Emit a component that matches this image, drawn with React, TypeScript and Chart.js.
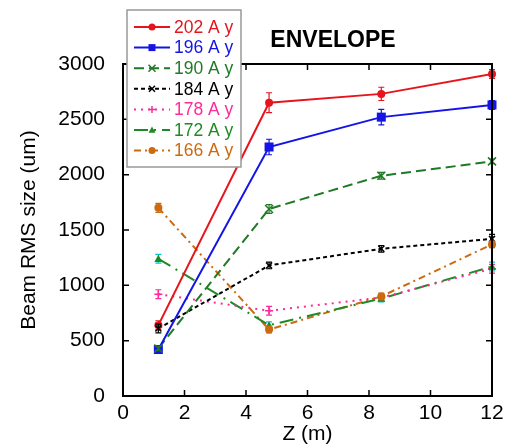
import React, { useEffect, useRef } from "react";
import { Chart, registerables } from "chart.js";

Chart.register(...registerables);

const zPositions = [1.15, 4.75, 8.4, 12];
const s202 = [640, 2650, 2730, 2910];
const s196 = [420, 2250, 2520, 2630];
const s190 = [430, 1690, 1990, 2120];
const s184 = [610, 1180, 1330, 1420];
const s178 = [920, 770, 890, 1150];
const s172 = [1240, 640, 880, 1170];
const s166 = [1700, 600, 900, 1370];

const e202 = [40, 90, 60, 40];
const e196 = [30, 70, 70, 40];
const e190 = [20, 40, 30, 20];
const e184 = [40, 30, 30, 40];
const e178 = [40, 40, 30, 40];
const e172 = [40, 30, 30, 40];
const e166 = [40, 30, 30, 30];

const labels = ["202 A y", "196 A y", "190 A y", "184 A y", "178 A y", "172 A y", "166 A y"];
const xTicks = [0, 2, 4, 6, 8, 10, 12];
const yTicks = [0, 500, 1000, 1500, 2000, 2500, 3000];

const FONT = "'Liberation Sans', Arial, sans-serif";

const styles = [
  { color: "#e6141c", dash: [], marker: "circle", size: 4 },
  { color: "#1414e6", dash: [], marker: "rect", size: 4.5 },
  { color: "#1f7a25", dash: [10, 5], marker: "crossRot", size: 4 },
  { color: "#000000", dash: [4, 3], marker: "crossRot", size: 3 },
  { color: "#ff2a9a", dash: [2, 5], marker: "cross", size: 4 },
  { color: "#1f8a25", dash: [14, 6, 2, 6], marker: "triangle", size: 4 },
  { color: "#cc6a10", dash: [7, 4, 2, 4], marker: "circle", size: 4 },
];

const seriesList = [s202, s196, s190, s184, s178, s172, s166];
const errList = [e202, e196, e190, e184, e178, e172, e166];
const errColors = ["#e6141c", "#1414e6", "#1f7a25", "#000000", "#ff2a9a", "#00c8c8", "#cc6a10"];

const drawMarker = (ctx: CanvasRenderingContext2D, type: string, x: number, y: number, r: number, color: string) => {
  ctx.save();
  ctx.setLineDash([]);
  ctx.fillStyle = color;
  ctx.strokeStyle = color;
  ctx.lineWidth = 1.5;
  ctx.beginPath();
  if (type === "circle") {
    ctx.arc(x, y, r, 0, Math.PI * 2);
    ctx.fill();
  } else if (type === "rect") {
    ctx.fillRect(x - r, y - r, 2 * r, 2 * r);
  } else if (type === "triangle") {
    ctx.moveTo(x, y - r);
    ctx.lineTo(x + r, y + r * 0.8);
    ctx.lineTo(x - r, y + r * 0.8);
    ctx.closePath();
    ctx.fill();
  } else if (type === "cross") {
    ctx.moveTo(x - r, y); ctx.lineTo(x + r, y);
    ctx.moveTo(x, y - r); ctx.lineTo(x, y + r);
    ctx.stroke();
  } else {
    ctx.moveTo(x - r, y - r); ctx.lineTo(x + r, y + r);
    ctx.moveTo(x + r, y - r); ctx.lineTo(x - r, y + r);
    ctx.stroke();
  }
  ctx.restore();
};

const customPlugin = {
  id: "custom",
  afterDatasetsDraw(chart: any) {
    const ctx = chart.ctx as CanvasRenderingContext2D;
    const xs = chart.scales.x;
    const ys = chart.scales.y;
    const ca = chart.chartArea;
    chart.data.datasets.forEach((ds: any, i: number) => {
      const meta = chart.getDatasetMeta(i);
      meta.data.forEach((pt: any, j: number) => {
        const v = seriesList[i][j];
        const e = errList[i][j];
        const y1 = ys.getPixelForValue(v + e);
        const y2 = ys.getPixelForValue(v - e);
        ctx.save();
        ctx.strokeStyle = errColors[i];
        ctx.lineWidth = 1.2;
        ctx.beginPath();
        ctx.moveTo(pt.x, y1); ctx.lineTo(pt.x, y2);
        ctx.moveTo(pt.x - 3, y1); ctx.lineTo(pt.x + 3, y1);
        ctx.moveTo(pt.x - 3, y2); ctx.lineTo(pt.x + 3, y2);
        ctx.stroke();
        ctx.restore();
        drawMarker(ctx, styles[i].marker, pt.x, pt.y, styles[i].size, styles[i].color);
      });
    });
    ctx.save();
    ctx.strokeStyle = "#000";
    ctx.lineWidth = 2;
    ctx.setLineDash([]);
    ctx.strokeRect(ca.left, ca.top, ca.right - ca.left, ca.bottom - ca.top);
    ctx.lineWidth = 1.5;
    ctx.beginPath();
    xTicks.forEach((t) => {
      const px = xs.getPixelForValue(t);
      ctx.moveTo(px, ca.bottom); ctx.lineTo(px, ca.bottom - 6);
      ctx.moveTo(px, ca.top); ctx.lineTo(px, ca.top + 6);
    });
    yTicks.forEach((t) => {
      const py = ys.getPixelForValue(t);
      ctx.moveTo(ca.left, py); ctx.lineTo(ca.left + 6, py);
      ctx.moveTo(ca.right, py); ctx.lineTo(ca.right - 6, py);
    });
    ctx.stroke();
    ctx.fillStyle = "#000";
    ctx.font = "bold 23px " + FONT;
    ctx.textAlign = "center";
    ctx.textBaseline = "middle";
    ctx.fillText("ENVELOPE", 333, 41);
    const lx = 127, ly = 10, lw = 114, lh = 157;
    ctx.fillStyle = "#fff";
    ctx.fillRect(lx, ly, lw, lh);
    ctx.strokeStyle = "#999";
    ctx.lineWidth = 1.5;
    ctx.strokeRect(lx, ly, lw, lh);
    ctx.font = "17.5px " + FONT;
    ctx.textAlign = "left";
    labels.forEach((lab, i) => {
      const y = 27 + i * 20.6;
      const st = styles[i];
      ctx.save();
      ctx.strokeStyle = st.color;
      ctx.lineWidth = 2;
      ctx.setLineDash(st.dash);
      ctx.beginPath();
      ctx.moveTo(134, y); ctx.lineTo(170, y);
      ctx.stroke();
      ctx.restore();
      drawMarker(ctx, st.marker, 152, y, Math.min(st.size, 3.5), st.color);
      ctx.fillStyle = st.color;
      ctx.fillText(lab, 174, y + 1);
    });
    ctx.restore();
  },
};

export default function App() {
  const ref = useRef<HTMLCanvasElement>(null);
  useEffect(() => {
    if (!ref.current) return;
    const chart = new Chart(ref.current, {
      type: "line",
      data: {
        datasets: seriesList.map((s, i) => ({
          label: labels[i],
          data: s.map((v, j) => ({ x: zPositions[j], y: v })),
          borderColor: styles[i].color,
          backgroundColor: styles[i].color,
          borderDash: styles[i].dash,
          borderWidth: 2,
          pointRadius: 0,
          tension: 0,
          fill: false,
        })),
      },
      options: {
        animation: false,
        responsive: false,
        maintainAspectRatio: false,
        layout: { padding: { top: 64, right: 18, left: 17, bottom: 0 } },
        plugins: { legend: { display: false }, tooltip: { enabled: false } },
        scales: {
          x: {
            type: "linear",
            min: 0,
            max: 12,
            grid: { display: false },
            border: { display: false },
            ticks: {
              stepSize: 2,
              color: "#000",
              padding: -3,
              maxRotation: 0,
              callback: (v: any) => String(v),
              font: { size: 21, family: FONT },
            },
            title: {
              display: true,
              text: "Z (m)",
              color: "#000",
              padding: { top: 0, bottom: 0 },
              font: { size: 21, family: FONT },
            },
            afterFit: (s: any) => { s.height = 51; },
          },
          y: {
            type: "linear",
            min: 0,
            max: 3000,
            grid: { display: false },
            border: { display: false },
            ticks: {
              stepSize: 500,
              color: "#000",
              padding: 10,
              callback: (v: any) => String(v),
              font: { size: 21, family: FONT },
            },
            title: {
              display: true,
              text: "Beam RMS size (um)",
              color: "#000",
              padding: { top: 0, bottom: 0 },
              font: { size: 21, family: FONT },
            },
            afterFit: (s: any) => { s.width = 106; },
          },
        },
      },
      plugins: [customPlugin],
    } as any);
    return () => chart.destroy();
  }, []);
  return (
    <div style={{ position: "fixed", left: 0, top: 0, width: 510, height: 447, background: "#fff" }}>
      <canvas ref={ref} width={510} height={447} style={{ width: 510, height: 447 }} />
    </div>
  );
}
